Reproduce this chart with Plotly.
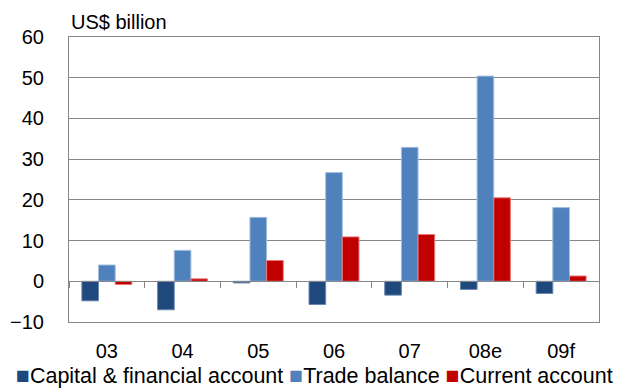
import plotly.graph_objects as go

categories = ["03", "04", "05", "06", "07", "08e", "09f"]
capital = [-4.8, -7.0, -0.4, -5.7, -3.4, -2.0, -3.0]
trade = [4.0, 7.6, 15.7, 26.7, 32.9, 50.4, 18.1]
current = [-0.8, 0.6, 5.1, 10.9, 11.5, 20.5, 1.3]
y_ticks = [-10, 0, 10, 20, 30, 40, 50, 60]
series_names = ["Capital & financial account", "Trade balance", "Current account"]
series_colors = ["#1F497D", "#4F81BD", "#C00000"]
series_edges = ["#6A88B0", "#A3BEDF", "#E87878"]

FONT = "Liberation Sans, Arial, sans-serif"
GRID = "#878787"

fig = go.Figure()
for vals, name, col, edge in zip([capital, trade, current], series_names,
                                 series_colors, series_edges):
    fig.add_bar(x=categories, y=vals, name=name, showlegend=False,
                marker=dict(color=col, line=dict(color=edge, width=1)))
# invisible trace carrying the zero-line axis with category-boundary ticks
fig.add_scatter(x=categories, y=[0] * len(categories), xaxis="x2", mode="none",
                showlegend=False, hoverinfo="skip")

legend_text = " ".join(
    f"<span style='color:{c};font-size:23px'>■</span>{n}"
    for n, c in zip(series_names, series_colors)
)

fig.update_layout(
    width=629, height=389,
    margin=dict(l=69, r=30, t=37, b=67, autoexpand=False),
    paper_bgcolor="white", plot_bgcolor="white",
    barmode="group", bargap=0.34, bargroupgap=0,
    font=dict(family=FONT, size=20, color="black"),
    showlegend=False,
    xaxis=dict(type="category", showgrid=False, showline=True, mirror=True,
               linecolor=GRID, linewidth=1, ticks="", tickfont=dict(size=20),
               ticklabelstandoff=11, zeroline=False, automargin=False),
    xaxis2=dict(type="category", overlaying="x", matches="x", anchor="free",
                position=10 / 70, showline=True, linecolor=GRID, linewidth=1,
                ticks="outside", ticklen=6, tickcolor=GRID, tickson="boundaries",
                showticklabels=False, showgrid=False, zeroline=False),
    yaxis=dict(range=[-10, 60], tickvals=y_ticks, showgrid=True, gridcolor=GRID,
               gridwidth=1, showline=True, mirror=True, linecolor=GRID,
               linewidth=1, ticks="", zeroline=False, tickfont=dict(size=20),
               ticklabelstandoff=20, automargin=False),
    annotations=[
        dict(text="US$ billion", xref="paper", yref="paper", x=0, y=1,
             xanchor="left", yanchor="bottom", yshift=2, showarrow=False,
             font=dict(size=20)),
        dict(text=legend_text, xref="paper", yref="paper", x=-0.104, y=-0.1875,
             xanchor="left", yanchor="middle", showarrow=False,
             font=dict(size=21.5)),
    ],
)

fig.write_html("out.html")
